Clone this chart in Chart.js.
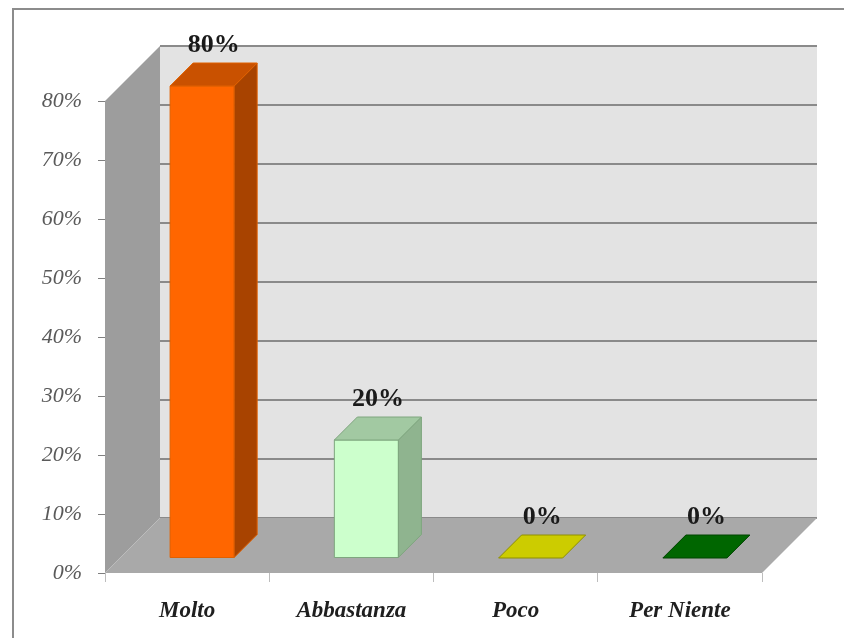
<!DOCTYPE html>
<html>
<head>
<meta charset="utf-8">
<script src="https://cdn.jsdelivr.net/npm/chart.js@4"></script>
<style>
  html, body { margin: 0; padding: 0; background: #fff; }
  #wrap { width: 844px; height: 638px; }
</style>
</head>
<body>
<div id="wrap"><canvas id="chart" width="844" height="638"></canvas></div>
<script>
// dane
const categories = ["Molto", "Abbastanza", "Poco", "Per Niente"];
const values = [80, 20, 0, 0];
const yMax = 80;
const yStep = 10;

// kolory słupków: przód / góra / bok / krawędź
const frontColors = ["#ff6600", "#ccffcc", "#cccc00", "#006600"];
const topColors = ["#c95100", "#a2c9a2", "#cccc00", "#006600"];
const sideColors = ["#a84300", "#8fb48f", "#a3a300", "#004d00"];
const edgeColors = ["#e06000", "#7ea67e", "#8f8f00", "#004400"];

const WALL_DEPTH = 55;   // głębokość ścian 3D
const BAR_SHIFT = 15;    // przesunięcie przodu słupka w głąb
const BAR_DEPTH = 23;    // grubość słupka
const FONT = "'Liberation Serif', 'DejaVu Serif', serif";

function poly(ctx, pts, fill, stroke) {
    ctx.beginPath();
    ctx.moveTo(pts[0][0], pts[0][1]);
    for (let i = 1; i < pts.length; i++) ctx.lineTo(pts[i][0], pts[i][1]);
    ctx.closePath();
    ctx.fillStyle = fill;
    ctx.fill();
    if (stroke) {
        ctx.strokeStyle = stroke;
        ctx.lineWidth = 1;
        ctx.stroke();
    }
}

const walls3d = {
    id: "walls3d",
    beforeDraw(chart) {
        const ctx = chart.ctx;
        const { left, right, bottom } = chart.chartArea;
        const ys = chart.scales.y;
        const d = WALL_DEPTH;
        const topY = ys.getPixelForValue(yMax);

        ctx.save();
        ctx.fillStyle = "#fff";
        ctx.fillRect(0, 0, chart.width, chart.height);

        // ramka zewnętrzna
        ctx.strokeStyle = "#8c8c8c";
        ctx.lineWidth = 2;
        ctx.beginPath();
        ctx.moveTo(13, chart.height);
        ctx.lineTo(13, 9);
        ctx.lineTo(chart.width, 9);
        ctx.stroke();

        // tylna ściana
        ctx.fillStyle = "#e3e3e3";
        ctx.fillRect(left + d, topY - d, right - left, bottom - topY);

        // linie siatki na tylnej ścianie
        ctx.strokeStyle = "#8a8a8a";
        ctx.lineWidth = 2;
        ys.ticks.forEach(t => {
            const y = ys.getPixelForValue(t.value) - d;
            ctx.beginPath();
            ctx.moveTo(left + d, y);
            ctx.lineTo(right + d, y);
            ctx.stroke();
        });

        // lewa ściana
        poly(ctx, [[left, topY], [left + d, topY - d], [left + d, bottom - d], [left, bottom]], "#9d9d9d");
        // podłoga
        poly(ctx, [[left, bottom], [right, bottom], [right + d, bottom - d], [left + d, bottom - d]], "#a9a9a9");
        ctx.restore();
    },
    afterDatasetsDraw(chart) {
        const ctx = chart.ctx;
        const meta = chart.getDatasetMeta(0);
        const s = BAR_SHIFT, w = BAR_DEPTH;
        ctx.save();
        meta.data.forEach((bar, i) => {
            const x0 = bar.x - bar.width / 2 + s;
            const x1 = bar.x + bar.width / 2 + s;
            const t = bar.y - s;
            const b = bar.base - s;
            if (values[i] > 0) {
                poly(ctx, [[x0, t], [x1, t], [x1, b], [x0, b]], frontColors[i], edgeColors[i]);
                poly(ctx, [[x1, t], [x1 + w, t - w], [x1 + w, b - w], [x1, b]], sideColors[i], edgeColors[i]);
            }
            poly(ctx, [[x0, t], [x1, t], [x1 + w, t - w], [x0 + w, t - w]], topColors[i], edgeColors[i]);

            // etykieta wartości
            ctx.fillStyle = "#1a1a1a";
            ctx.font = "bold 26px " + FONT;
            ctx.textAlign = "center";
            ctx.textBaseline = "middle";
            ctx.fillText(values[i] + "%", (x0 + x1) / 2 + w / 2, t - w - 18);
        });
        ctx.restore();
    }
};

new Chart(document.getElementById("chart"), {
    type: "bar",
    data: {
        labels: categories,
        datasets: [{
            data: values,
            backgroundColor: "rgba(0,0,0,0)",
            borderWidth: 0,
            categoryPercentage: 1,
            barPercentage: 0.39,
        }],
    },
    options: {
        responsive: false,
        animation: false,
        devicePixelRatio: 1,
        layout: { padding: { left: 0, top: 101, right: 82, bottom: 0 } },
        plugins: {
            legend: { display: false },
            tooltip: { enabled: false },
        },
        scales: {
            x: {
                afterFit: (s) => { s.height = 65; },
                grid: { drawOnChartArea: false, drawTicks: true, tickLength: 9, color: "#bdbdbd" },
                border: { display: false },
                ticks: {
                    color: "#1f1f1f",
                    padding: 15,
                    font: { family: FONT, size: 23, style: "italic", weight: "bold" },
                },
            },
            y: {
                min: 0,
                max: yMax,
                afterFit: (s) => { s.width = 105; },
                grid: { drawOnChartArea: false, drawTicks: true, tickLength: 7, color: "#7f7f7f" },
                border: { display: false },
                ticks: {
                    stepSize: yStep,
                    color: "#5a5a5a",
                    padding: 16,
                    font: { family: FONT, size: 22, style: "italic" },
                    callback: (v) => v + "%",
                },
            },
        },
    },
    plugins: [walls3d],
});
</script>
</body>
</html>
